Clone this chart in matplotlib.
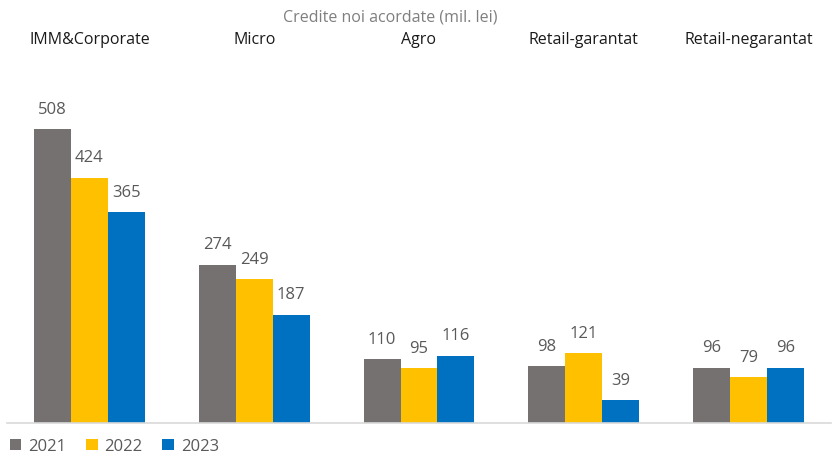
import matplotlib.pyplot as plt
import numpy as np

plt.rcParams['font.family'] = ['Open Sans', 'DejaVu Sans']

categories = ['IMM&Corporate', 'Micro', 'Agro', 'Retail-garantat', 'Retail-negarantat']
years = ['2021', '2022', '2023']
v2021 = [508, 274, 110, 98, 96]
v2022 = [424, 249, 95, 121, 79]
v2023 = [365, 187, 116, 39, 96]
colors = ['#767171', '#FFC000', '#0070C0']

fig = plt.figure(figsize=(8.33, 4.56), dpi=100)
ax = fig.add_axes((7/833, 32/456, 824/833, 363/456))

x = np.arange(len(categories))
w = 0.224
for i, (vals, c, yr) in enumerate(zip([v2021, v2022, v2023], colors, years)):
    bars = ax.bar(x + (i - 1) * w, vals, w, color=c, label=yr)
    for b, v in zip(bars, vals):
        ax.annotate(str(v), (b.get_x() + b.get_width() / 2, v),
                    xytext=(0, 9), textcoords='offset points',
                    ha='center', va='bottom', fontsize=12, color='#595959')

ax.set_xlim(-0.5, 4.5)
ax.set_ylim(0, 628)
ax.set_yticks([])
ax.set_xticks([])
for s in ['top', 'left', 'right']:
    ax.spines[s].set_visible(False)
ax.spines['bottom'].set_color('#D9D9D9')
ax.spines['bottom'].set_linewidth(1.2)

# category labels above groups
for xi, cat in zip(x, categories):
    fig.text((7 + 164.8 * (xi + 0.5)) / 833, 1 - 40/456, cat,
             ha='center', va='center', fontsize=11.5, color='#1a1a1a')

fig.text(390/833, 1 - 18/456, 'Credite noi acordate (mil. lei)',
         ha='center', va='center', fontsize=11.5, color='#7f7f7f')

ax.legend(loc='lower left', bbox_to_anchor=(-0.005, -0.105), ncol=3, frameon=False,
          fontsize=12, handlelength=0.7, handleheight=0.7, handletextpad=0.4,
          columnspacing=1.2, labelcolor='#595959', borderaxespad=0)

fig.savefig('out.png', dpi=100)
